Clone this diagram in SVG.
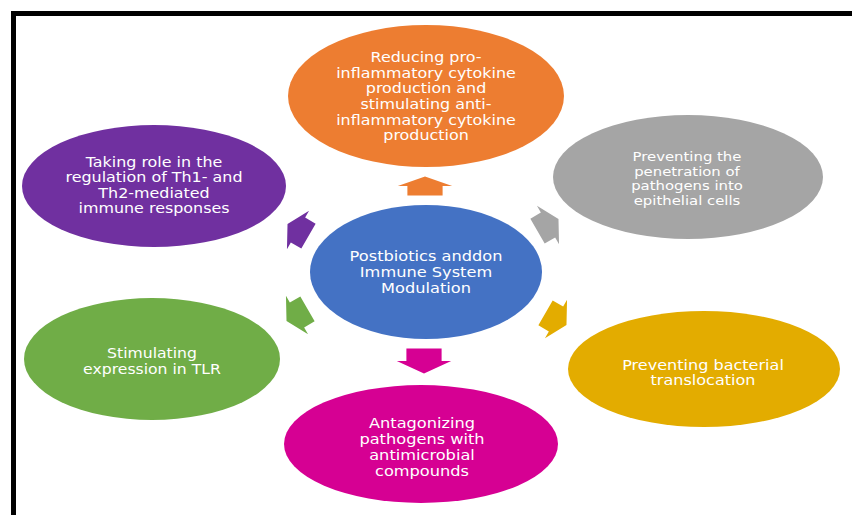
<svg xmlns="http://www.w3.org/2000/svg" xmlns:xlink="http://www.w3.org/1999/xlink" width="852" height="515" viewBox="0 0 852 515">
<style>
.lbl{font-family:"DejaVu Sans","Liberation Sans",sans-serif;font-size:13.5px;fill:#ffffff;text-anchor:middle}
.sm{font-size:12.6px}
</style>
<defs>
<path id="arr" d="M-11,-11 L0,-11 L0,-17 L11,0 L0,17 L0,11 L-11,11 Z"/>
</defs>
<rect x="0" y="0" width="852" height="515" fill="#ffffff"/>
<rect x="13.5" y="13.5" width="900" height="600" fill="none" stroke="#000000" stroke-width="5"/>
<g id="connectors">
<use xlink:href="#arr" fill="#ED7D31" transform="translate(425,186) rotate(-90) scale(0.86,1.6)"/>
<use xlink:href="#arr" fill="#D60093" transform="translate(424,361) rotate(90) scale(1.14,1.6)"/>
<use xlink:href="#arr" fill="#7030A0" transform="translate(298,230) rotate(210) scale(1.1,1.3)"/>
<use xlink:href="#arr" fill="#A5A5A5" transform="translate(548,225) rotate(-30) scale(1.1,1.3)"/>
<use xlink:href="#arr" fill="#70AD47" transform="translate(297,315) rotate(150) scale(1.1,1.3)"/>
<use xlink:href="#arr" fill="#E3AC00" transform="translate(556,319) rotate(30) scale(1.1,1.3)"/>
</g>
<g id="n-orange">
<ellipse cx="426" cy="96" rx="138" ry="71" fill="#ED7D31"/>
<g transform="translate(426,0) scale(1.18,1)">
<text class="lbl" x="0" y="62">Reducing pro-</text>
<text class="lbl" x="0" y="77.7">inflammatory cytokine</text>
<text class="lbl" x="0" y="93.4">production and</text>
<text class="lbl" x="0" y="109.1">stimulating anti-</text>
<text class="lbl" x="0" y="124.8">inflammatory cytokine</text>
<text class="lbl" x="0" y="140.5">production</text>
</g>
</g>
<g id="n-gray">
<ellipse cx="688" cy="177" rx="135" ry="62" fill="#A5A5A5"/>
<g transform="translate(687,0) scale(1.18,1)">
<text class="lbl sm" x="0" y="161.5">Preventing the</text>
<text class="lbl sm" x="0" y="176">penetration of</text>
<text class="lbl sm" x="0" y="190.5">pathogens into</text>
<text class="lbl sm" x="0" y="205">epithelial cells</text>
</g>
</g>
<g id="n-purple">
<ellipse cx="154" cy="186" rx="132" ry="61" fill="#7030A0"/>
<g transform="translate(154,0) scale(1.18,1)">
<text class="lbl" x="0" y="167">Taking role in the</text>
<text class="lbl" x="0" y="182.5">regulation of Th1- and</text>
<text class="lbl" x="0" y="198">Th2-mediated</text>
<text class="lbl" x="0" y="213.5">immune responses</text>
</g>
</g>
<g id="n-center">
<ellipse cx="426" cy="272" rx="116" ry="67" fill="#4472C4"/>
<g transform="translate(426,0) scale(1.2,1)">
<text class="lbl" x="0" y="261">Postbiotics anddon</text>
<text class="lbl" x="0" y="277">Immune System</text>
<text class="lbl" x="0" y="293">Modulation</text>
</g>
</g>
<g id="n-green">
<ellipse cx="152" cy="359" rx="128" ry="61" fill="#70AD47"/>
<g transform="translate(152,0) scale(1.16,1)">
<text class="lbl" x="0" y="358">Stimulating</text>
<text class="lbl" x="0" y="374">expression in TLR</text>
</g>
</g>
<g id="n-yellow">
<ellipse cx="704" cy="369" rx="136" ry="58" fill="#E3AC00"/>
<g transform="translate(703,0) scale(1.19,1)">
<text class="lbl" x="0" y="370">Preventing bacterial</text>
<text class="lbl" x="0" y="385.5">translocation</text>
</g>
</g>
<g id="n-magenta">
<ellipse cx="421" cy="444" rx="137" ry="59" fill="#D60093"/>
<g transform="translate(422,0) scale(1.2,1)">
<text class="lbl" x="0" y="428">Antagonizing</text>
<text class="lbl" x="0" y="444.5">pathogens with</text>
<text class="lbl" x="0" y="460.5">antimicrobial</text>
<text class="lbl" x="0" y="476">compounds</text>
</g>
</g>
</svg>
